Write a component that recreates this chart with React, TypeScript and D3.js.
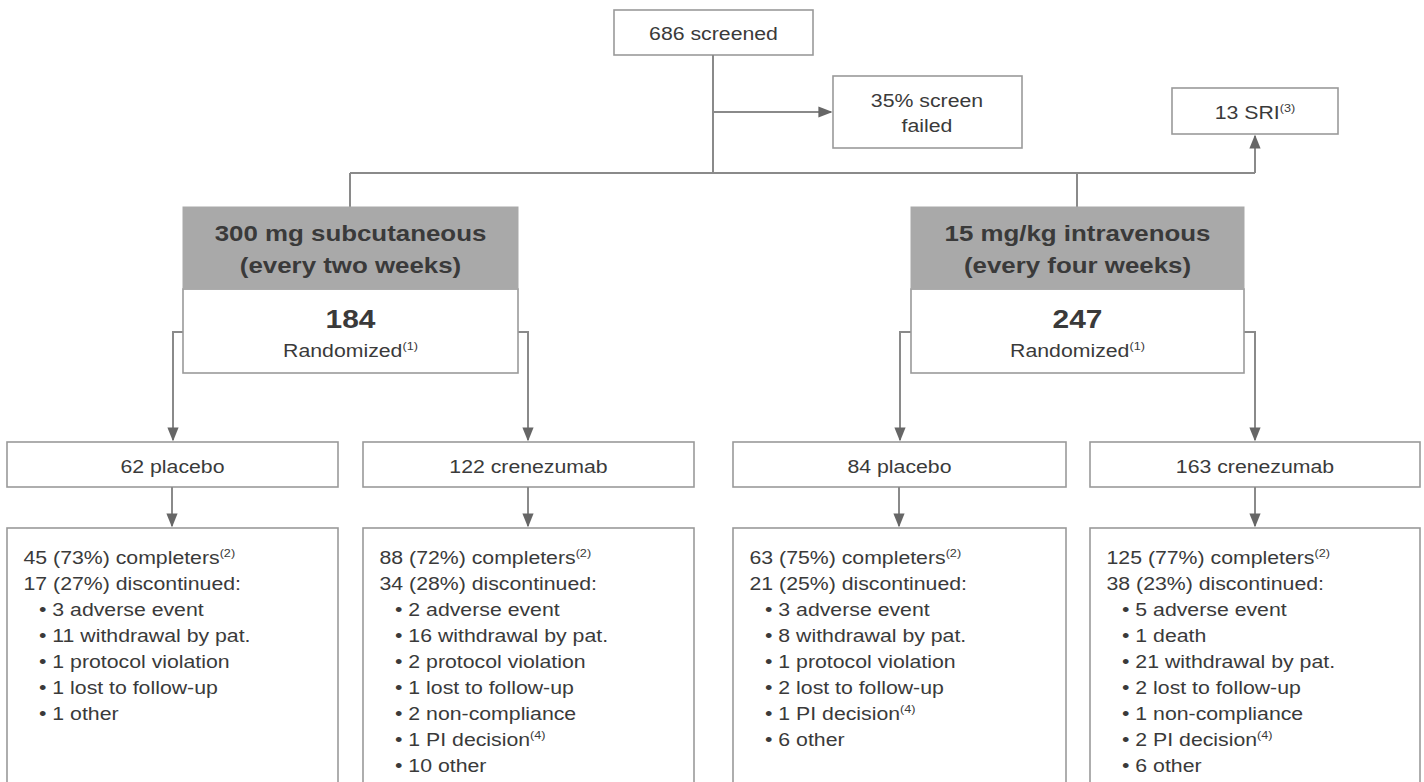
import React from "react";
import * as d3 from "d3";

// ---------- data ----------
const screenedLabel = "686 screened";
const screenFailLines = ["35% screen", "failed"];
const sriLabel = "13 SRI";
const sriNote = "(3)";
const groupTitles = [
  ["300 mg subcutaneous", "(every two weeks)"],
  ["15 mg/kg intravenous", "(every four weeks)"],
];
const groupRandomized = [184, 247];
const randomizedNote = "(1)";
const armLabels = ["62 placebo", "122 crenezumab", "84 placebo", "163 crenezumab"];
const completers = ["45 (73%)", "88 (72%)", "63 (75%)", "125 (77%)"];
const discontinued = ["17 (27%)", "34 (28%)", "21 (25%)", "38 (23%)"];
const reasons: string[][] = [
  ["3 adverse event", "11 withdrawal by pat.", "1 protocol violation", "1 lost to follow-up", "1 other"],
  ["2 adverse event", "16 withdrawal by pat.", "2 protocol violation", "1 lost to follow-up", "2 non-compliance", "1 PI decision", "10 other"],
  ["3 adverse event", "8 withdrawal by pat.", "1 protocol violation", "2 lost to follow-up", "1 PI decision", "6 other"],
  ["5 adverse event", "1 death", "21 withdrawal by pat.", "2 lost to follow-up", "1 non-compliance", "2 PI decision", "6 other"],
];
const piNote = "(4)";
const completersNote = "(2)";

// ---------- layout ----------
const W = 1424;
const H = 782;
const SX = 1.15;
const FONT = "'Liberation Sans', Arial, Helvetica, sans-serif";
const TEXT = "#3a3a3a";
const STROKE = "#9a9a9a";
const LINE = "#8a8a8a";
const GREY = "#a9a9a9";

const armLeft = [7, 363, 733, 1090];
const armWidth = [331, 331, 333, 330];
const groupLeft = [183, 911];
const groupWidth = [335, 333];
const groupCenter = [350, 1077];
const sideX = [
  [173, 528],
  [900, 1255],
];

const lineY = d3.scaleLinear().domain([0, 1]).range([564, 590]);

type TP = {
  x: number;
  y: number;
  size?: number;
  weight?: string | number;
  anchor?: "start" | "middle" | "end";
  children?: React.ReactNode;
};
const T = ({ x, y, size = 18.5, weight = "normal", anchor = "start", children }: TP) => (
  <text
    transform={`translate(${x},${y}) scale(${SX},1)`}
    fontFamily={FONT}
    fontSize={size}
    fontWeight={weight}
    fill={TEXT}
    textAnchor={anchor}
  >
    {children}
  </text>
);
const Sup = ({ t }: { t: string }) => (
  <tspan fontSize={11} dy={-7}>
    {t}
  </tspan>
);

const withPI = (s: string) =>
  s.includes("PI decision") ? (
    <>
      {s}
      <Sup t={piNote} />
    </>
  ) : (
    s
  );

export default function App() {
  const path = d3.path();
  path.moveTo(713, 55);
  path.lineTo(713, 173);
  path.moveTo(groupCenter[0], 173);
  path.lineTo(1255, 173);
  groupCenter.forEach((c) => {
    path.moveTo(c, 173);
    path.lineTo(c, 207);
  });
  const linePath = path.toString();

  const arrows: [number, number, number, number][] = [];
  arrows.push([713, 112, 831, 112]);
  arrows.push([1255, 173, 1255, 136]);
  const sidePaths: string[] = [];
  sideX.forEach((pair, g) => {
    const [l, r] = pair;
    const gl = groupLeft[g];
    const gr = groupLeft[g] + groupWidth[g];
    sidePaths.push(d3.line()([[gl, 332], [l, 332], [l, 440]]) as string);
    sidePaths.push(d3.line()([[gr, 332], [r, 332], [r, 440]]) as string);
  });
  const armCenters = armLeft.map((l, i) => l + armWidth[i] / 2);
  const connX = [172, 528, 899, 1255];

  return (
    <svg
      width={W}
      height={H}
      viewBox={`0 0 ${W} ${H}`}
      style={{ position: "absolute", left: 0, top: 0, background: "#fff" }}
    >
      <defs>
        <marker id="ah" viewBox="0 0 10 10" refX="9" refY="5" markerWidth="7" markerHeight="7" orient="auto">
          <path d="M0,1 L10,5 L0,9 z" fill="#666" />
        </marker>
      </defs>
      <rect x={0} y={0} width={W} height={H} fill="#fff" />

      <rect x={614} y={10} width={199} height={45} fill="#fff" stroke={STROKE} strokeWidth={1.6} />
      <T x={713.5} y={39.5} anchor="middle">{screenedLabel}</T>

      <rect x={833} y={76} width={189} height={72} fill="#fff" stroke={STROKE} strokeWidth={1.6} />
      {screenFailLines.map((s, i) => (
        <T key={i} x={927} y={107 + i * 25} anchor="middle">
          {s}
        </T>
      ))}

      <rect x={1172} y={88} width={166} height={46} fill="#fff" stroke={STROKE} strokeWidth={1.6} />
      <T x={1255} y={119} anchor="middle">
        {sriLabel}
        <Sup t={sriNote} />
      </T>

      <path d={linePath} fill="none" stroke={LINE} strokeWidth={2} />
      {arrows.map((a, i) => (
        <line key={i} x1={a[0]} y1={a[1]} x2={a[2]} y2={a[3]} stroke={LINE} strokeWidth={2} markerEnd="url(#ah)" />
      ))}
      {sidePaths.map((d, i) => (
        <path key={i} d={d} fill="none" stroke={LINE} strokeWidth={2} markerEnd="url(#ah)" />
      ))}

      {groupLeft.map((gl, g) => (
        <g key={g}>
          <rect x={gl} y={289} width={groupWidth[g]} height={84} fill="#fff" stroke={STROKE} strokeWidth={1.6} />
          <rect x={gl} y={207} width={groupWidth[g]} height={82} fill={GREY} stroke={GREY} strokeWidth={1} />
          {groupTitles[g].map((s, i) => (
            <T key={i} x={gl + groupWidth[g] / 2} y={241 + i * 32} size={22.5} weight="bold" anchor="middle">
              {s}
            </T>
          ))}
          <T x={gl + groupWidth[g] / 2} y={328} size={26} weight="bold" anchor="middle">
            {groupRandomized[g]}
          </T>
          <T x={gl + groupWidth[g] / 2} y={357} anchor="middle">
            Randomized
            <Sup t={randomizedNote} />
          </T>
        </g>
      ))}

      {armLeft.map((l, i) => (
        <g key={i}>
          <rect x={l} y={442} width={armWidth[i]} height={45} fill="#fff" stroke={STROKE} strokeWidth={1.6} />
          <T x={armCenters[i]} y={473} anchor="middle">
            {armLabels[i]}
          </T>
          <line x1={connX[i]} y1={487} x2={connX[i]} y2={526} stroke={LINE} strokeWidth={2} markerEnd="url(#ah)" />
          <rect x={l} y={528} width={armWidth[i]} height={270} fill="#fff" stroke={STROKE} strokeWidth={1.6} />
          <T x={l + 16.5} y={lineY(0)}>
            {completers[i]} completers
            <Sup t={completersNote} />
          </T>
          <T x={l + 16.5} y={lineY(1)}>
            {discontinued[i]} discontinued:
          </T>
          {reasons[i].map((r, j) => (
            <T key={j} x={l + 32} y={lineY(j + 2)}>
              {"• "}
              {withPI(r)}
            </T>
          ))}
        </g>
      ))}
    </svg>
  );
}
